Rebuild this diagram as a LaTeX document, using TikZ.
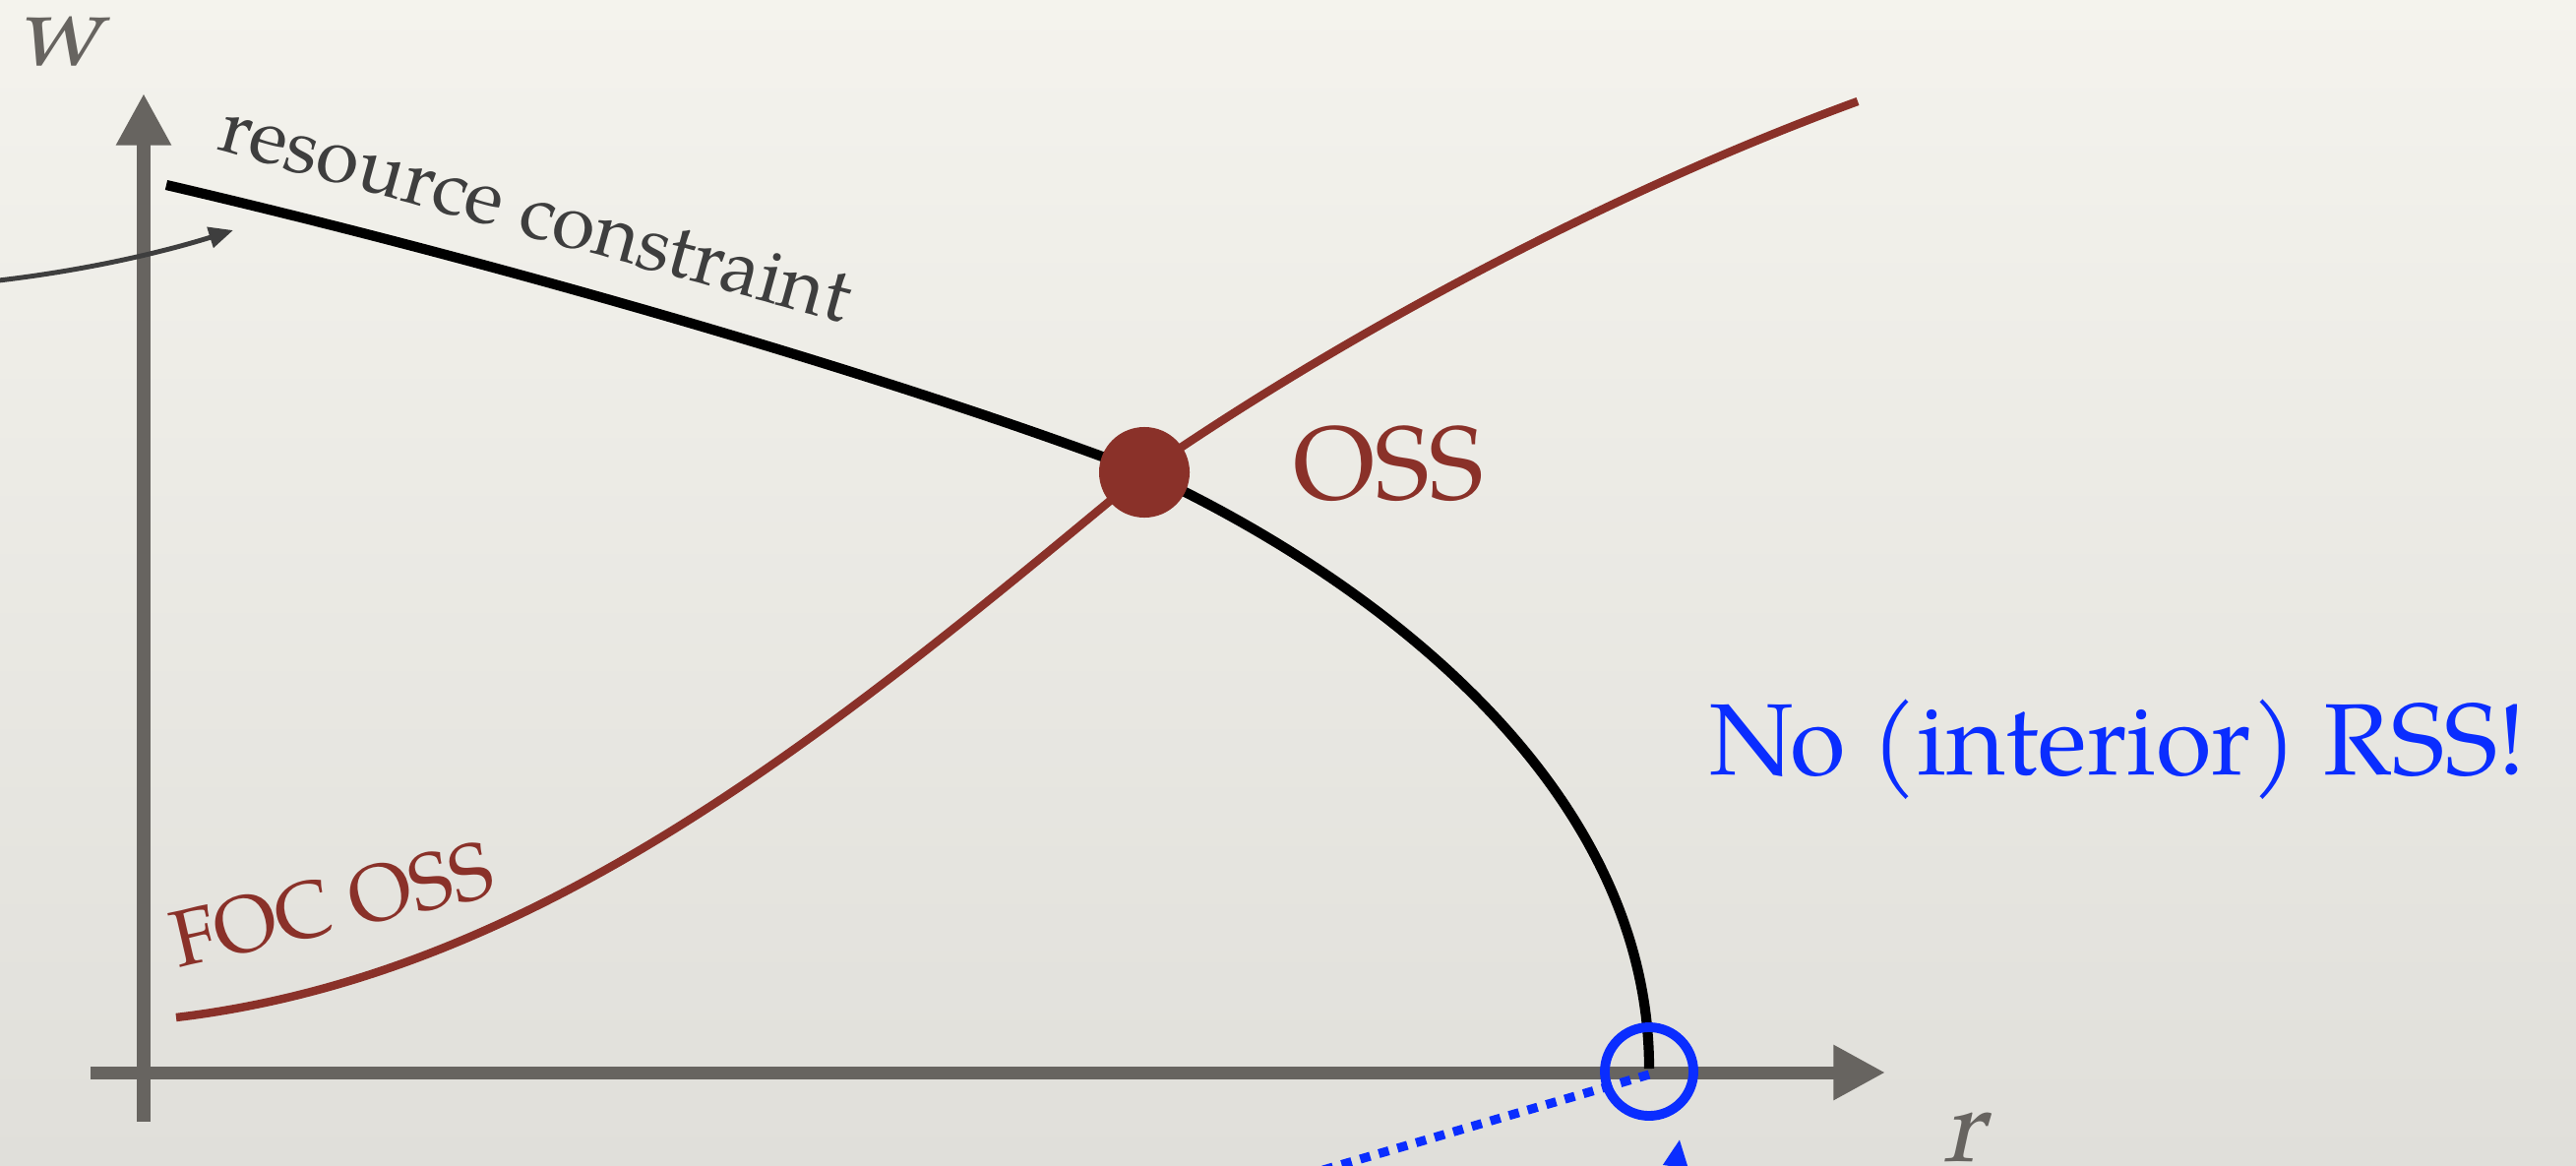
\documentclass[tikz,border=0pt]{standalone}
\usepackage{fontspec}
\setmainfont{TeX Gyre Pagella}
\newfontfamily\slantpag[FakeSlant=0.22]{TeX Gyre Pagella}
\usetikzlibrary{arrows.meta}
\definecolor{paperT}{RGB}{244,243,237}
\definecolor{paperB}{RGB}{224,223,218}
\definecolor{axisgray}{RGB}{103,100,96}
\definecolor{ossred}{RGB}{138,49,41}
\definecolor{rssblue}{RGB}{10,45,255}
\definecolor{notegray}{RGB}{62,62,62}
\tikzset{
  axisline/.style={draw=axisgray,line width=3.7pt,-{Triangle[length=15pt,width=15pt]}},
  constraint/.style={draw=black,line width=2.9pt},
  focline/.style={draw=ossred,line width=2.4pt},
  ossdot/.style={circle,fill=ossred,inner sep=0pt,minimum size=0.92cm},
  rssring/.style={circle,draw=rssblue,line width=2.8pt,inner sep=0pt,minimum size=0.9cm},
  bluedots/.style={draw=rssblue,line width=2.6pt,dash pattern=on 3pt off 2.6pt},
  bluearrow/.style={draw=rssblue,line width=1.6pt,-{Triangle[length=8pt,width=7pt]}},
  notearrow/.style={draw=notegray,line width=1.4pt,-{Triangle[length=7pt,width=6pt]}},
  axislabel/.style={text=axisgray,font=\fontsize{30}{36}\selectfont\slantpag,inner sep=0pt,anchor=base},
}
\begin{document}
\begin{tikzpicture}[x=0.01cm,y=-0.01cm]
\shade[top color=paperT,bottom color=paperB] (0,0) rectangle (2618,1185);
\useasboundingbox (0,0) rectangle (2618,1185);
\clip (0,0) rectangle (2618,1185);

% axes
\coordinate (ybot) at (146,1140);
\coordinate (ytop) at (146,95);
\coordinate (xleft) at (92,1090);
\coordinate (xright) at (1916,1090);
\draw[axisline] (ybot) -- (ytop);
\draw[axisline] (xleft) -- (xright);
\node[axislabel] (wlab) at (60,67) {w};
\node[axislabel] (rlab) at (1995,1180) {r};

% note arrow from the left
\coordinate (noteA) at (-10,286);
\coordinate (noteB) at (237,234);
\draw[notearrow] (noteA) .. controls (80,276) and (160,258) .. (noteB);

% curves
\coordinate (rcStart) at (169,188);
\coordinate (oss) at (1163,480);
\coordinate (rcEnd) at (1676,1086);
\coordinate (focStart) at (179,1034);
\coordinate (focEnd) at (1888,103);
\draw[constraint] (rcStart) .. controls (500,265) and (900,380) .. (oss)
   .. controls (1400,590) and (1676,800) .. (rcEnd);
\draw[focline] (focStart) .. controls (550,990) and (850,740) .. (oss)
   .. controls (1380,330) and (1650,190) .. (focEnd);

\node[ossdot] (dot) at (oss) {};
\node[rssring] (ring) at (1676,1089) {};

% blue dotted line and arrow (leaving the picture)
\coordinate (dotsEnd) at (1000,1290);
\draw[bluedots] (ring.center) ++(0,3) -- (dotsEnd);
\coordinate (barrowStart) at (1692,1260);
\coordinate (barrowTip) at (1707,1158);
\draw[bluearrow] (barrowStart) -- (barrowTip);

% labels
\node[text=notegray,font=\fontsize{22.4}{26}\selectfont,rotate=-15.5,anchor=base,inner sep=0pt]
  (rclab) at (538,240) {resource constraint};
\node[text=ossred,font=\fontsize{23}{27}\selectfont,rotate=13,anchor=base,inner sep=0pt]
  (foclab) at (344,946) {FOC OSS};
\node[text=ossred,font=\fontsize{30}{36}\selectfont,anchor=base,inner sep=0pt]
  (osslab) at (1411,507) {OSS};
\node[text=rssblue,font=\fontsize{29.3}{35}\selectfont,anchor=base,inner sep=0pt]
  (rsslab) at (2152,787) {No (interior) RSS!};
\end{tikzpicture}
\end{document}
